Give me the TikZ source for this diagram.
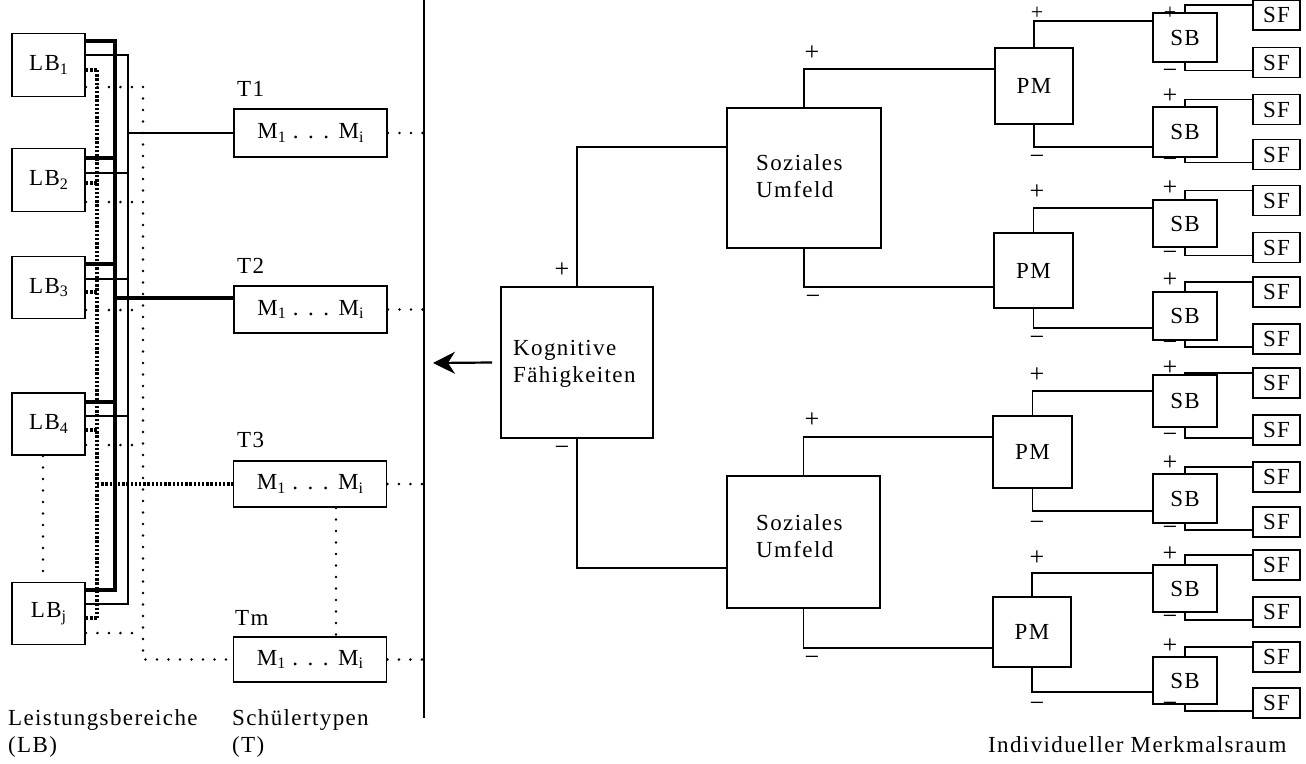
\documentclass[tikz,border=0pt]{standalone}
\usepackage{fontspec}
\setmainfont[LetterSpace=6]{Liberation Serif}
\usetikzlibrary{arrows.meta}
\newcommand\sbsc[1]{\raisebox{-0.35ex}{\fontsize{16}{16}\selectfont #1}}
\begin{document}
\begin{tikzpicture}[x=1pt,y=-1pt,
  font=\fontsize{23}{27}\selectfont,
  bx/.style={draw, line width=1.8pt, inner sep=0pt},
  ln/.style={line width=1.5pt},
  thk/.style={line width=4.5pt},
  spdot/.style={line width=2.8pt, line cap=round, dash pattern=on 0pt off 11.5pt},
  dndot/.style={line width=4.5pt, dash pattern=on 2.4pt off 1.8pt},
  sgn/.style={inner sep=0pt, font=\fontsize{26}{26}\selectfont},
  txt/.style={inner sep=0pt, align=left}]
\useasboundingbox (0,0) rectangle (1306,763);

% ---------------- left part: Leistungsbereiche
\node[bx, minimum width=73pt, minimum height=63pt] (LB1) at (48.5,65) {LB\sbsc{1}};
\node[bx, minimum width=73pt, minimum height=63pt] (LB2) at (48.5,180) {LB\sbsc{2}};
\node[bx, minimum width=73pt, minimum height=62pt] (LB3) at (48.5,287.5) {LB\sbsc{3}};
\node[bx, minimum width=73pt, minimum height=62pt] (LB4) at (48.5,424) {LB\sbsc{4}};
\node[bx, minimum width=73pt, minimum height=62pt] (LB5) at (48.5,613.5) {LB\sbsc{j}};

% Schuelertypen
\node[bx, minimum width=153pt, minimum height=48pt] (T1) at (310.5,133) {M\sbsc{1} . . . M\sbsc{i}};
\node[bx, minimum width=153pt, minimum height=47pt] (T2) at (310.5,309.5) {M\sbsc{1} . . . M\sbsc{i}};
\node[bx, minimum width=153pt, minimum height=46pt] (T3) at (310,484) {M\sbsc{1} . . . M\sbsc{i}};
\node[bx, minimum width=153pt, minimum height=45pt] (Tm) at (310,659.5) {M\sbsc{1} . . . M\sbsc{i}};
\node[anchor=base west, inner sep=0pt] (T1l) at (237,96) {T1};
\node[anchor=base west, inner sep=0pt] (T2l) at (237,273) {T2};
\node[anchor=base west, inner sep=0pt] (T3l) at (237,447) {T3};
\node[anchor=base west, inner sep=0pt] (Tml) at (235,625) {Tm};

% bus coordinates
\coordinate (tk1) at (115,41);  \coordinate (tk2) at (115,158); \coordinate (tk3) at (115,264);
\coordinate (tk4) at (115,402); \coordinate (tk5) at (115,590); \coordinate (tkT) at (115,298);
\coordinate (tn1) at (128,55);  \coordinate (tn2) at (128,173); \coordinate (tn3) at (128,279);
\coordinate (tn4) at (128,416); \coordinate (tn5) at (128,604); \coordinate (tnT) at (128,133);
\coordinate (dn1) at (97,70);   \coordinate (dn2) at (97,183);  \coordinate (dn3) at (97,292);
\coordinate (dn4) at (97,430);  \coordinate (dn5) at (97,618);  \coordinate (dnT) at (97,484);
\coordinate (sp1) at (143,87);  \coordinate (sp2) at (143,202); \coordinate (sp3) at (143,310);
\coordinate (sp4) at (143,445); \coordinate (sp5) at (143,633); \coordinate (spT) at (143,659.5);

% thin solid bus -> T1
\draw[ln] (LB1.east |- tn1) -- (tn1) -- (tn5) -- (LB5.east |- tn5);
\foreach \k in {2,3,4} \draw[ln] (LB\k.east |- tn\k) -- (tn\k);
\draw[ln] (tnT) -- (T1.west);

% thick bus -> T2
\draw[thk] (LB1.east |- tk1) -- (tk1) -- (tk5) -- (LB5.east |- tk5);
\foreach \k in {2,3,4} \draw[thk] (LB\k.east |- tk\k) -- (tk\k);
\draw[thk] (tkT) -- (T2.west |- tkT);

% dense dotted bus -> T3
\draw[dndot] (dn1) -- (dn5);
\foreach \k in {1,...,5} \draw[dndot] (LB\k.east |- dn\k) -- (dn\k);
\draw[dndot] (dnT) -- (T3.west);

% sparse dotted bus -> Tm
\foreach \k in {1,...,5} \draw[spdot] (LB\k.east |- sp\k) -- (sp\k);
\draw[spdot] (sp1) -- (spT) -- (Tm.west);

% other dotted links
\coordinate (lx) at (43,0);
\draw[spdot] (LB4.south -| lx) -- (LB5.north -| lx);
\coordinate (tx) at (336,0);
\draw[spdot] (T3.south -| tx) -- (Tm.north -| tx);

% separator line and dotted links to it
\coordinate (vtop) at (424,0);
\coordinate (vbot) at (424,718);
\draw[ln] (vtop) -- (vbot);
\foreach \t in {T1,T2,T3,Tm} \draw[spdot] (\t.east) -- (\t.east -| vtop);

% bottom captions
\node[anchor=base west, inner sep=0pt] (cap1) at (8,725) {Leistungsbereiche};
\node[anchor=base west, inner sep=0pt] (cap1b) at (8,752) {(LB)};
\node[anchor=base west, inner sep=0pt] (cap2) at (232,725) {Schülertypen};
\node[anchor=base west, inner sep=0pt] (cap2b) at (232,752) {(T)};
\node[anchor=base west, inner sep=0pt] (cap3) at (988,752) {Individueller Merkmalsraum};

% ---------------- right part: tree
\node[bx, minimum width=152pt, minimum height=151pt] (KF) at (577,362.5) {};
\node[txt, anchor=west] (KFt) at (513,363.5) {Kognitive\\Fähigkeiten};
\coordinate (arrtip) at (433,363);
\draw[line width=2.2pt, -{Stealth[length=22pt,width=22pt,inset=7pt]}] ([xshift=-8pt]KF.west) -- (arrtip);

\node[bx, minimum width=154pt, minimum height=140pt] (SU1) at (804,178) {};
\node[txt, anchor=west] (SU1t) at (756,176) {Soziales\\Umfeld};
\node[bx, minimum width=153pt, minimum height=132pt] (SU2) at (803.5,542) {};
\node[txt, anchor=west] (SU2t) at (756,536.5) {Soziales\\Umfeld};

\node[bx, minimum width=78pt, minimum height=76pt] (PM1) at (1034,86) {PM};
\node[bx, minimum width=79pt, minimum height=75pt] (PM2) at (1033.5,270.5) {PM};
\node[bx, minimum width=79pt, minimum height=72pt] (PM3) at (1032.5,452) {PM};
\node[bx, minimum width=78pt, minimum height=70pt] (PM4) at (1032,632) {PM};

\foreach \n/\y/\h in {1/37.5/49, 2/132/50, 3/223.5/47, 4/316/48, 5/401/52, 6/498.5/49, 7/588.5/47, 8/680.5/47}
  \node[bx, minimum width=64pt, minimum height=\h pt] (SB\n) at (1185,\y) {SB};
\foreach \n/\y in {1/15, 2/62.5, 3/109.5, 4/154.5, 5/200.5, 6/247.5, 7/292, 8/339, 9/383, 10/430, 11/477, 12/522, 13/565, 14/612, 15/657, 16/703}
  \node[bx, minimum width=47pt, minimum height=30pt] (SF\n) at (1276.5,\y) {SF};

% KF -> SU
\draw[ln] (KF.north) |- ([yshift=-40pt]SU1.north west);
\draw[ln] (KF.south) |- ([yshift=41pt]SU2.south west);
% SU -> PM
\draw[ln] (SU1.north) |- ([yshift=-22pt]PM1.north west);
\draw[ln] (SU1.south) |- ([yshift=22pt]PM2.south west);
\draw[ln] (SU2.north) |- ([yshift=-22pt]PM3.north west);
\draw[ln] (SU2.south) |- ([yshift=20pt]PM4.south west);
% PM -> SB
\draw[ln] (PM1.north) |- ([yshift=-9pt]SB1.north west);
\draw[ln] (PM1.south) |- ([yshift=11pt]SB2.south west);
\draw[ln] (PM2.north) |- ([yshift=-9pt]SB3.north west);
\draw[ln] (PM2.south) |- ([yshift=13pt]SB4.south west);
\draw[ln] (PM3.north) |- ([yshift=-17pt]SB5.north west);
\draw[ln] (PM3.south) |- ([yshift=13pt]SB6.south west);
\draw[ln] (PM4.north) |- ([yshift=-9pt]SB7.north west);
\draw[ln] (PM4.south) |- ([yshift=13pt]SB8.south west);
% SB -> SF
\foreach \k [evaluate=\k as \a using int(2*\k-1), evaluate=\k as \b using int(2*\k)] in {1,...,8} {
  \draw[ln] (SB\k.north) |- ([yshift=-6pt]SF\a.north west);
  \draw[ln] (SB\k.south) |- ([yshift=8pt]SF\b.south west);
}

% signs
\node[sgn] (sKp) at (562,270) {+};
\node[sgn] (sKm) at (562,451) {−};
\node[sgn] (sS1p) at (812,53) {+};
\node[sgn] (sS1m) at (813,300) {−};
\node[sgn] (sS2p) at (812,420) {+};
\node[sgn] (sS2m) at (812,661) {−};
\node[sgn, font=\fontsize{22}{22}\selectfont] (sP1p) at (1037,13) {+};
\foreach \y in {192,375,558} \node[sgn] at (1037,\y) {+};
\foreach \y in {160,341,526,707} \node[sgn] at (1037,\y) {−};
\node[sgn, font=\fontsize{22}{22}\selectfont] (sB1p) at (1170,13) {+};
\foreach \y in {96,188,280,368,463,554,646} \node[sgn] at (1170,\y) {+};
\foreach \y in {74,163,256,346,438,531,620,707} \node[sgn] at (1170,\y) {−};
\end{tikzpicture}
\end{document}
